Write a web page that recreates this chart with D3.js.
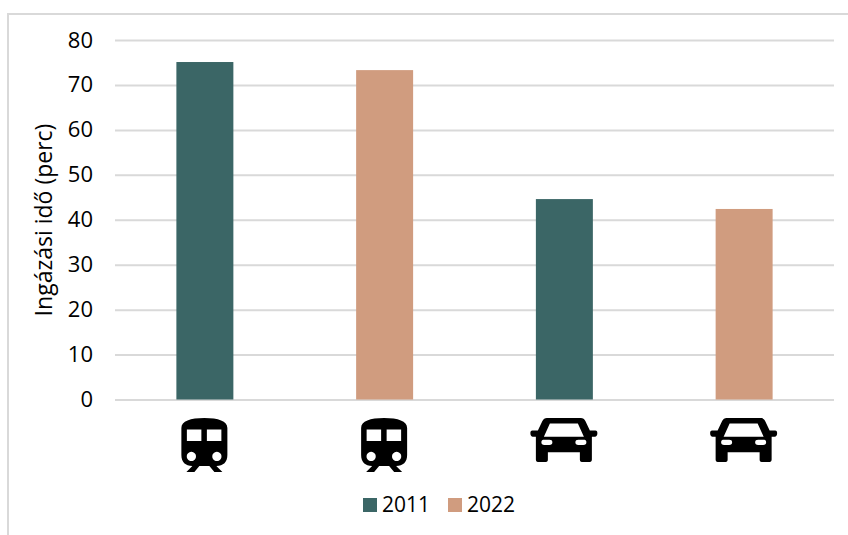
<!DOCTYPE html>
<html>
<head>
<meta charset="utf-8">
<style>
  html, body { margin: 0; padding: 0; background: #fff; }
  svg { display: block; }
  text { font-family: "Open Sans", sans-serif; fill: #000; }
</style>
</head>
<body>
<div id="chart"></div>
<script src="https://cdn.jsdelivr.net/npm/d3@7"></script>
<script>
const categories = ["vonat 2011", "vonat 2022", "autó 2011", "autó 2022"];
const values = [75.1, 73.3, 44.6, 42.4];
const years = ["2011", "2022", "2011", "2022"];
const icons = ["train", "train", "car", "car"];
const yTicks = [0, 10, 20, 30, 40, 50, 60, 70, 80];
const legendYears = ["2011", "2022"];
const yTitle = "Ingázási idő (perc)";

const width = 848, height = 535;
const plot = {left: 115, right: 834, top: 40, bottom: 399.5};

// icon outlines, origin at top centre of the icon
const iconPaths = {
  train: "M-23 10C-23 3 -14 0 0 0C14 0 23 3 23 10V37C23 44 19 48 12 48L18 54H10L5 48H-5L-10 54H-18L-12 48C-19 48 -23 44 -23 37Z" +
    "M-17.5 11.5V23H-3V11.5ZM2.5 11.5V23H17V11.5Z" +
    "M-13 33.8a4.6 4.6 0 1 0 0.01 0ZM12.5 33.8a4.6 4.6 0 1 0 0.01 0Z",
  car: "M-17 0H17C19 0 20.5 1 21.5 3L26 12.5H31.5C33 12.5 33.5 13.5 33.5 15.2C33.5 17.5 32.5 18.7 31 18.7H28V41.5C28 43 27.3 44 26 44H18C16.5 44 16 43 16 41.5V34.3H-16V41.5C-16 43 -16.5 44 -18 44H-26C-27.3 44 -28 43 -28 41.5V18.7H-31C-32.5 18.7 -33.5 17.5 -33.5 15.2C-33.5 13.5 -33 12.5 -31.5 12.5H-26L-21.5 3C-20.5 1 -19 0 -17 0Z" +
    "M-14 5.5L-20 18.8H20L14 5.5Z" +
    "M-22.5 24.2C-22.5 22.3 -21.5 21.7 -19.5 21.7H-14.5C-12.5 21.7 -11.5 22.5 -11.5 24.2C-11.5 26 -12.5 26.9 -14.5 26.9H-19.5C-21.5 26.9 -22.5 26 -22.5 24.2Z" +
    "M11.5 24.2C11.5 22.5 12.5 21.7 14.5 21.7H19.5C21.5 21.7 22.5 22.3 22.5 24.2C22.5 26 21.5 26.9 19.5 26.9H14.5C12.5 26.9 11.5 26 11.5 24.2Z"
};

const color = d3.scaleOrdinal().domain(legendYears).range(["#3b6666", "#d09c7f"]);

const x = d3.scaleBand()
  .domain(categories)
  .range([plot.left, plot.right])
  .paddingInner(0.683)
  .paddingOuter(0.3415);

const y = d3.scaleLinear()
  .domain([0, 80])
  .range([plot.bottom, plot.top]);

const svg = d3.select("#chart").append("svg")
  .attr("width", width)
  .attr("height", height);

// chart frame, only top and left edges are inside the picture
svg.append("path")
  .attr("d", "M8 " + height + "V14H" + width)
  .attr("fill", "none")
  .attr("stroke", "#d9d9d9")
  .attr("stroke-width", 2);

const yAxis = svg.append("g")
  .attr("transform", "translate(" + plot.left + ",0)")
  .call(d3.axisLeft(y).tickValues(yTicks).tickSize(-(plot.right - plot.left)).tickPadding(22));

yAxis.select(".domain").remove();
yAxis.selectAll("line").attr("stroke", "#d9d9d9").attr("stroke-width", 2);
yAxis.selectAll("text").style("font-size", "22px").attr("fill", "#000");

svg.selectAll(".bar")
  .data(categories)
  .enter().append("rect")
    .attr("class", "bar")
    .attr("x", function(d) { return x(d); })
    .attr("y", function(d, i) { return y(values[i]); })
    .attr("width", x.bandwidth())
    .attr("height", function(d, i) { return y(0) - y(values[i]); })
    .style("fill", function(d, i) { return color(years[i]); });

svg.selectAll(".icon")
  .data(categories)
  .enter().append("path")
    .attr("class", "icon")
    .attr("transform", function(d) { return "translate(" + (x(d) + x.bandwidth() / 2 - 0.5) + ",418)"; })
    .attr("d", function(d, i) { return iconPaths[icons[i]]; })
    .attr("fill", "#000")
    .attr("fill-rule", "evenodd");

svg.append("text")
  .attr("transform", "translate(52,220) rotate(-90)")
  .attr("text-anchor", "middle")
  .style("font-size", "23px")
  .text(yTitle);

const legend = svg.selectAll(".legend")
  .data(legendYears)
  .enter().append("g")
    .attr("class", "legend")
    .attr("transform", function(d, i) { return "translate(" + (363 + i * 85) + ",498)"; });

legend.append("rect")
  .attr("width", 14)
  .attr("height", 14)
  .style("fill", function(d) { return color(d); });

legend.append("text")
  .attr("x", 19)
  .attr("y", 14)
  .style("font-size", "21px")
  .text(function(d) { return d; });
</script>
</body>
</html>
